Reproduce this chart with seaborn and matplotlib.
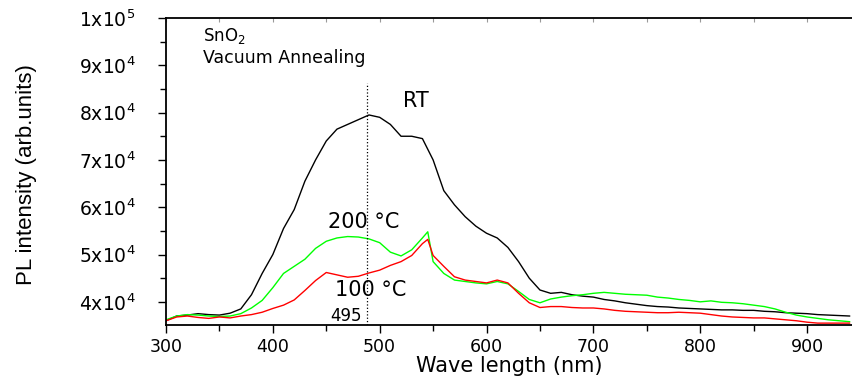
import numpy as np
import pandas as pd
import matplotlib
matplotlib.use("Agg")
import matplotlib.pyplot as plt
import seaborn as sns
from matplotlib.ticker import MultipleLocator, FixedLocator

# wavelength grid (nm)
wl_rt = [300, 310, 320, 330, 340, 350, 360, 370, 380, 390, 400, 410, 420, 430, 440,
         450, 460, 470, 480, 490, 500, 510, 520, 530, 540, 550, 560, 570, 580, 590,
         600, 610, 620, 630, 640, 650, 660, 670, 680, 690, 700, 710, 720, 730, 740,
         750, 760, 770, 780, 790, 800, 810, 820, 830, 840, 850, 860, 870, 880, 890,
         900, 910, 920, 930, 940]
wl_ann = [300, 310, 320, 330, 340, 350, 360, 370, 380, 390, 400, 410, 420, 430, 440,
          450, 460, 470, 480, 490, 500, 510, 520, 530, 540, 545, 550, 560, 570, 580,
          590, 600, 610, 620, 630, 640, 650, 660, 670, 680, 690, 700, 710, 720, 730,
          740, 750, 760, 770, 780, 790, 800, 810, 820, 830, 840, 850, 860, 870, 880,
          890, 900, 910, 920, 930, 940]

pl_rt = [36000, 37000, 37200, 37500, 37300, 37200, 37600, 38500, 41500, 46000,
         50000, 55500, 59500, 65500, 70000, 74000, 76500, 77500, 78500, 79500,
         79000, 77500, 75000, 75000, 74500, 70000, 63500, 60500, 58000, 56000,
         54500, 53500, 51500, 48500, 45000, 42500, 41800, 42000, 41500, 41200,
         41000, 40500, 40200, 39800, 39500, 39200, 39000, 38900, 38700, 38600,
         38500, 38400, 38300, 38300, 38200, 38200, 38000, 37900, 37700, 37600,
         37500, 37300, 37200, 37100, 37000]
pl_200 = [36200, 37000, 37300, 37200, 37000, 36900, 37000, 37500, 38700, 40300,
          43000, 46000, 47500, 49000, 51300, 52800, 53500, 53800, 53700, 53300,
          52500, 50500, 49700, 51000, 53500, 54800, 48500, 46000, 44600, 44300,
          44000, 43800, 44300, 43800, 42200, 40500, 39800, 40600, 41000, 41300,
          41500, 41800, 42000, 41800, 41600, 41500, 41400, 41000, 40800, 40500,
          40300, 40000, 40200, 39900, 39800, 39600, 39300, 39000, 38500, 37800,
          37200, 36800, 36500, 36200, 36000, 35800]
pl_100 = [36000, 36800, 37000, 36700, 36500, 36800, 36600, 37000, 37300, 37800,
          38600, 39300, 40400, 42400, 44500, 46200, 45700, 45200, 45400, 46100,
          46700, 47700, 48500, 49800, 52300, 53200, 49800, 47500, 45300, 44600,
          44300, 44000, 44600, 44000, 41800, 39800, 38800, 39000, 39000, 38800,
          38700, 38700, 38500, 38200, 38000, 37900, 37800, 37700, 37700, 37800,
          37700, 37600, 37300, 37000, 36800, 36700, 36600, 36600, 36400, 36200,
          36000, 35700, 35500, 35500, 35500, 35500]

peak_wl = 488
ytick_vals = [40000, 50000, 60000, 70000, 80000, 90000, 100000]
ytick_labels = ["4x10$^4$", "5x10$^4$", "6x10$^4$", "7x10$^4$",
                "8x10$^4$", "9x10$^4$", "1x10$^5$"]

sns.set_style("ticks")
plt.rcParams["font.family"] = ["DejaVu Sans"]
plt.rcParams["mathtext.default"] = "regular"
plt.rcParams["text.color"] = "black"
plt.rcParams["axes.labelcolor"] = "black"
plt.rcParams["xtick.color"] = "black"
plt.rcParams["ytick.color"] = "black"
plt.rcParams["axes.edgecolor"] = "black"

fig = plt.figure(figsize=(8.53, 3.8), dpi=100)
ax = fig.add_axes([0.1946, 0.1447, 0.8054, 0.808])

sns.lineplot(x=wl_rt, y=pl_rt, ax=ax, color="black", lw=1.0)
sns.lineplot(x=wl_ann, y=pl_200, ax=ax, color="#00ff00", lw=1.0)
sns.lineplot(x=wl_ann, y=pl_100, ax=ax, color="#ff0000", lw=1.0)

ax.plot([peak_wl, peak_wl], [35100, 86300], color="black", lw=0.9, ls=":")

ax.set_xlim(300, 943)
ax.set_ylim(35100, 100000)
ax.xaxis.set_major_locator(MultipleLocator(100))
ax.xaxis.set_minor_locator(MultipleLocator(50))
ax.yaxis.set_major_locator(FixedLocator(ytick_vals))
ax.set_yticklabels(ytick_labels)
ax.yaxis.set_minor_locator(MultipleLocator(5000))
ax.tick_params(axis="x", which="major", direction="out", length=6, width=1,
               labelsize=12.5, pad=3)
ax.tick_params(axis="y", which="major", direction="out", length=6, width=1,
               labelsize=13.5, pad=16)
ax.tick_params(axis="both", which="minor", direction="out", length=4, width=1)
for sp in ["left", "bottom", "top"]:
    ax.spines[sp].set_linewidth(1.3)
ax.spines["right"].set_visible(False)

# small inward ticks on the top frame
top = ax.secondary_xaxis("top")
top.xaxis.set_major_locator(MultipleLocator(50))
top.tick_params(direction="in", length=3, width=0.8, color="#999999",
                labeltop=False)
top.spines["top"].set_visible(False)

ax.set_xlabel("Wave length (nm)", fontsize=15)
ax.set_ylabel("PL intensity (arb.units)", fontsize=16,
              family=["Liberation Sans", "DejaVu Sans"])
ax.yaxis.set_label_coords(-0.188, 0.49)
ax.xaxis.set_label_coords(0.5, -0.1)

ax.text(0.054, 0.94, "SnO$_2$", transform=ax.transAxes, fontsize=12, va="center")
ax.text(0.054, 0.87, "Vacuum Annealing", transform=ax.transAxes, fontsize=12.5,
        va="center")
ax.text(0.345, 0.73, "RT", transform=ax.transAxes, fontsize=15, va="center")
ax.text(0.236, 0.335, "200 °C", transform=ax.transAxes, fontsize=15, va="center")
ax.text(0.246, 0.114, "100 °C", transform=ax.transAxes, fontsize=15, va="center")
ax.text(0.239, 0.03, "495", transform=ax.transAxes, fontsize=12, va="center")

fig.savefig("out.png", dpi=100)
